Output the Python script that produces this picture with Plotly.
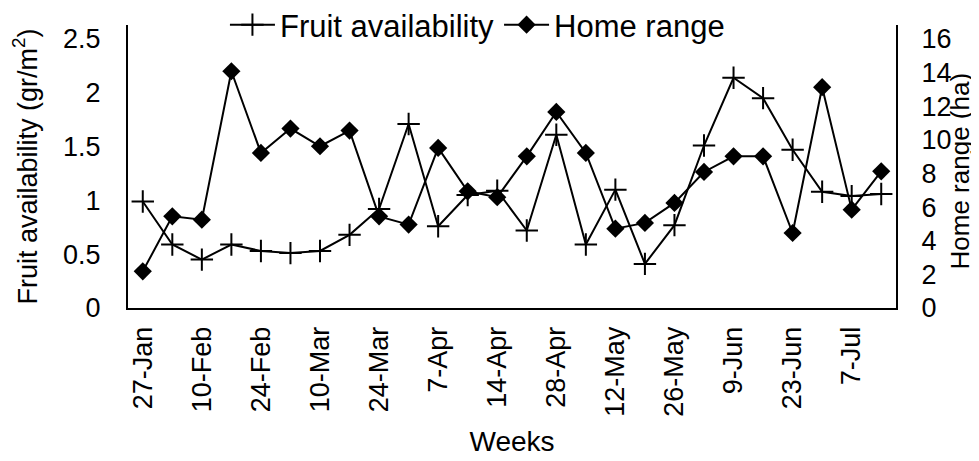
import plotly.graph_objects as go

week_index = list(range(26))
tick_labels = ["27-Jan", "10-Feb", "24-Feb", "10-Mar", "24-Mar", "7-Apr", "14-Apr",
               "28-Apr", "12-May", "26-May", "9-Jun", "23-Jun", "7-Jul"]
tick_positions = week_index[::2]

fruit_availability = [0.99, 0.59, 0.45, 0.59, 0.53, 0.51, 0.53, 0.68, 0.92, 1.71,
                      0.76, 1.05, 1.09, 0.72, 1.61, 0.59, 1.10, 0.41, 0.77, 1.51,
                      2.14, 1.95, 1.47, 1.08, 1.04, 1.06]
home_range = [2.18, 5.45, 5.25, 14.08, 9.22, 10.67, 9.62, 10.55, 5.45, 4.96,
              9.52, 6.94, 6.59, 9.02, 11.66, 9.22, 4.72, 5.06, 6.25, 8.09,
              9.02, 9.02, 4.46, 13.13, 5.85, 8.13]

FONT = "Liberation Sans, Arial, sans-serif"

fig = go.Figure()
fig.add_trace(go.Scatter(
    x=week_index, y=fruit_availability, name="Fruit availability",
    mode="lines+markers",
    line=dict(color="black", width=2),
    marker=dict(symbol="cross-thin", size=16, color="black",
                line=dict(color="black", width=2)),
))
fig.add_trace(go.Scatter(
    x=week_index, y=home_range, name="Home range", yaxis="y2",
    mode="lines+markers",
    line=dict(color="black", width=2),
    marker=dict(symbol="diamond", size=14, color="black"),
))

fig.update_layout(
    width=979, height=461,
    margin=dict(l=120, r=91, t=17, b=161, autoexpand=False),
    paper_bgcolor="white", plot_bgcolor="white",
    font=dict(family=FONT, color="black", size=26),
    showlegend=True,
    legend=dict(orientation="h", x=0.455, xanchor="center", y=1.0, yanchor="middle",
                font=dict(size=31), itemwidth=45, bgcolor="rgba(0,0,0,0)",
                tracegroupgap=0),
    xaxis=dict(
        range=[-0.5, 25.5], tickmode="array", tickvals=tick_positions, ticktext=tick_labels,
        tickangle=-90, tickfont=dict(size=27), showline=True, linecolor="black", linewidth=2,
        showgrid=False, zeroline=False, ticks="", ticklabelstandoff=6, automargin=False,
        title=dict(text="Weeks", font=dict(size=28), standoff=16),
    ),
    yaxis=dict(
        range=[0, 2.63], tickvals=[0, 0.5, 1, 1.5, 2, 2.5],
        ticktext=["0", "0.5", "1", "1.5", "2", "2.5"], tickfont=dict(size=27),
        showline=True, linecolor="black", linewidth=2, showgrid=False, zeroline=False,
        ticks="", ticklabelstandoff=20, automargin=False,
        title=dict(text="Fruit availability (gr/m<sup>2</sup>)", font=dict(size=27), standoff=18),
    ),
    yaxis2=dict(
        range=[0, 16.83], tickvals=[0, 2, 4, 6, 8, 10, 12, 14, 16], tickfont=dict(size=27),
        overlaying="y", side="right",
        showline=True, linecolor="black", linewidth=2, showgrid=False, zeroline=False,
        ticks="", ticklabelstandoff=18, automargin=False,
    ),
    annotations=[dict(
        text="Home range (ha)", textangle=-90, xref="paper", yref="paper",
        x=1.083, y=0.485, xanchor="center", yanchor="middle", showarrow=False,
        font=dict(size=26, family=FONT, color="black"),
    )],
)

fig.write_html("out.html")
